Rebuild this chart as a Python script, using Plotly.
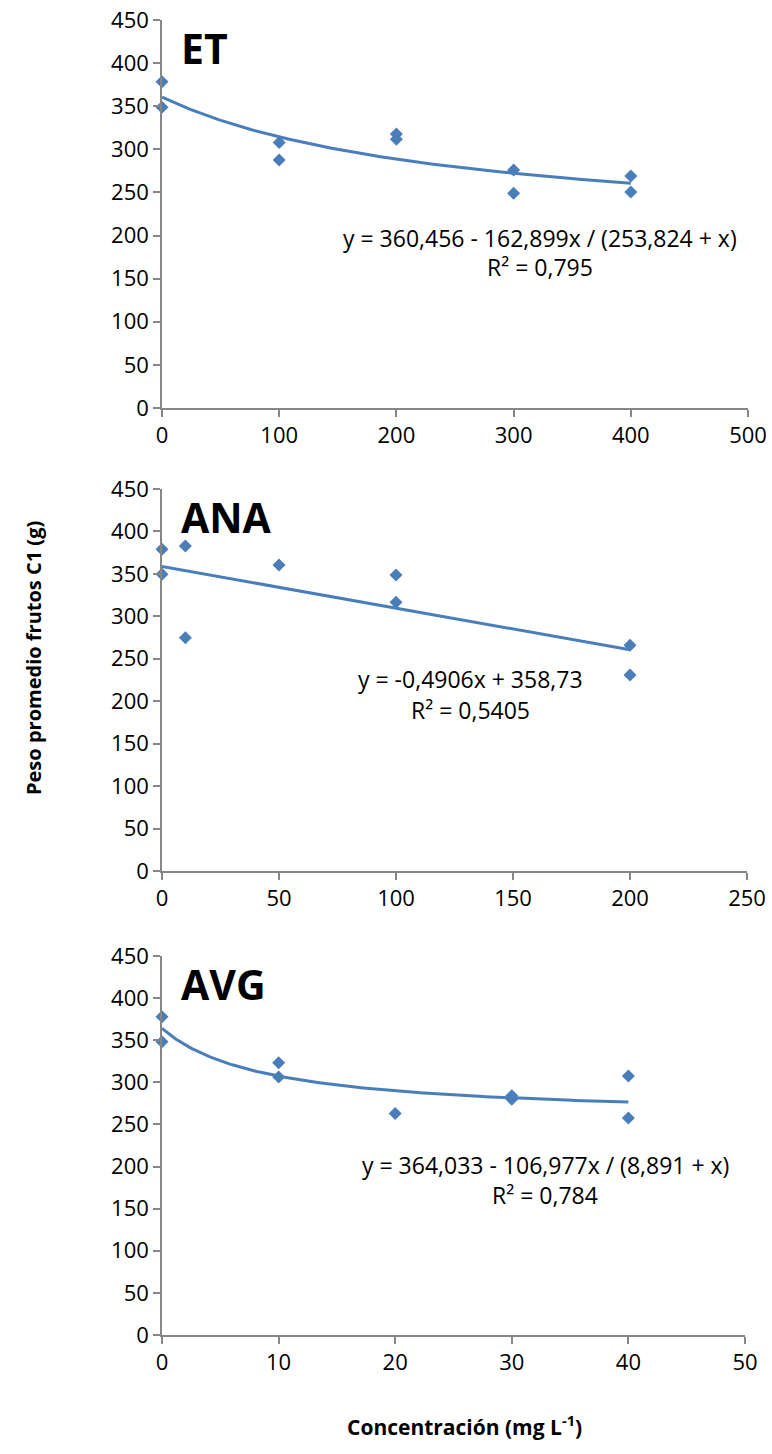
import numpy as np
import plotly.graph_objects as go

W, H = 772, 1454

# --- ET panel data (mg L-1 vs g) ---
et_x = [0, 0, 100, 100, 200, 200, 300, 300, 400, 400]
et_y = [378.5, 348.7, 308.0, 287.6, 317.8, 311.6, 276.0, 249.0, 269.0, 250.5]
et_fit = (360.456, 162.899, 253.824)  # y = a - b*x / (c + x)
et_eq = "y = 360,456 - 162,899x / (253,824 + x)"
et_r2 = "R² = 0,795"

# --- ANA panel data ---
ana_x = [0, 0, 10, 10, 50, 100, 100, 200, 200]
ana_y = [379.0, 349.5, 382.8, 274.8, 360.4, 348.6, 316.5, 266.0, 231.0]
ana_fit = (-0.4906, 358.73)  # y = m*x + q
ana_eq = "y = -0,4906x + 358,73"
ana_r2 = "R² = 0,5405"

# --- AVG panel data ---
avg_x = [0, 0, 10, 10, 20, 30, 30, 40, 40]
avg_y = [378.0, 348.3, 323.4, 306.4, 263.0, 284.0, 280.0, 307.6, 257.7]
avg_fit = (364.033, 106.977, 8.891)
avg_eq = "y = 364,033 - 106,977x / (8,891 + x)"
avg_r2 = "R² = 0,784"

panel_names = ["ET", "ANA", "AVG"]
x_ranges = [(0, 500, 100), (0, 250, 50), (0, 50, 10)]
y_ticks = list(range(0, 451, 50))

BLUE = "#4a7ebb"
AXIS = "#868686"
FONT = "Open Sans"

def px_x(x):
    return x / W

def px_y(y):
    return 1 - y / H

# plot areas in pixels: (left, right, top, bottom)
boxes = [(162, 748, 20, 408), (162, 747, 489, 871), (162, 745, 956, 1335)]

fig = go.Figure()

def hyper(p, x):
    a, b, c = p
    return a - b * x / (c + x)

curves = []
xs = np.linspace(0, 400, 200)
curves.append((xs, hyper(et_fit, xs)))
xs = np.linspace(0, 200, 50)
curves.append((xs, ana_fit[0] * xs + ana_fit[1]))
xs = np.linspace(0, 40, 200)
curves.append((xs, hyper(avg_fit, xs)))

points = [(et_x, et_y), (ana_x, ana_y), (avg_x, avg_y)]

for i in range(3):
    suf = "" if i == 0 else str(i + 1)
    xa, ya = "x" + suf, "y" + suf
    cx, cy = curves[i]
    fig.add_trace(go.Scatter(x=cx, y=cy, mode="lines", xaxis=xa, yaxis=ya,
                             line=dict(color=BLUE, width=3), showlegend=False))
    px_, py_ = points[i]
    fig.add_trace(go.Scatter(x=px_, y=py_, mode="markers", xaxis=xa, yaxis=ya,
                             marker=dict(symbol="diamond", size=10, color=BLUE),
                             showlegend=False, cliponaxis=False))
    left, right, top, bot = boxes[i]
    x0, x1, dx = x_ranges[i]
    axis_common = dict(showgrid=False, zeroline=False, showline=True,
                       linecolor=AXIS, linewidth=1.5, ticks="outside",
                       ticklen=7, tickcolor=AXIS, tickwidth=1.5, automargin=False,
                       ticklabeloverflow="allow",
                       tickfont=dict(family=FONT, size=22, color="#000"))
    fig.layout["xaxis" + suf] = dict(
        domain=[px_x(left), px_x(right)], anchor=ya,
        range=[x0, x1], tickvals=list(range(x0, x1 + 1, dx)), **axis_common)
    fig.layout["yaxis" + suf] = dict(
        domain=[px_y(bot), px_y(top)], anchor=xa,
        range=[0, 450], tickvals=y_ticks, **axis_common)

annotations = []
# panel titles
for name, (left, right, top, bot) in zip(panel_names, boxes):
    annotations.append(dict(x=px_x(179), y=px_y(top + 28), xref="paper", yref="paper",
                            text=f"<b>{name}</b>", showarrow=False, xanchor="left",
                            yanchor="middle", font=dict(family=FONT, size=41, color="#000")))

eqs = [(et_eq, et_r2, 540, 238, 267), (ana_eq, ana_r2, 470, 679, 710),
       (avg_eq, avg_r2, 545, 1165, 1195)]
for eq, r2, cx, y1, y2 in eqs:
    annotations.append(dict(x=px_x(cx), y=px_y(y1), xref="paper", yref="paper",
                            text=eq, showarrow=False, xanchor="center", yanchor="middle",
                            font=dict(family=FONT, size=23, color="#000")))
    annotations.append(dict(x=px_x(cx), y=px_y(y2), xref="paper", yref="paper",
                            text=r2, showarrow=False, xanchor="center", yanchor="middle",
                            font=dict(family=FONT, size=23, color="#000")))

annotations.append(dict(x=px_x(33), y=px_y(658), xref="paper", yref="paper",
                        text="<b>Peso promedio frutos C1 (g)</b>", showarrow=False,
                        textangle=-90, xanchor="center", yanchor="middle",
                        font=dict(family=FONT, size=20, color="#000")))
annotations.append(dict(x=px_x(464), y=px_y(1425), xref="paper", yref="paper",
                        text="<b>Concentración (mg L<sup>-1</sup>)</b>", showarrow=False,
                        xanchor="center", yanchor="middle",
                        font=dict(family=FONT, size=21, color="#000")))

fig.update_layout(width=W, height=H,
                  margin=dict(l=0, r=0, t=0, b=0, autoexpand=False),
                  plot_bgcolor="white", paper_bgcolor="white",
                  annotations=annotations, font=dict(family=FONT))

fig.write_html("out.html")
